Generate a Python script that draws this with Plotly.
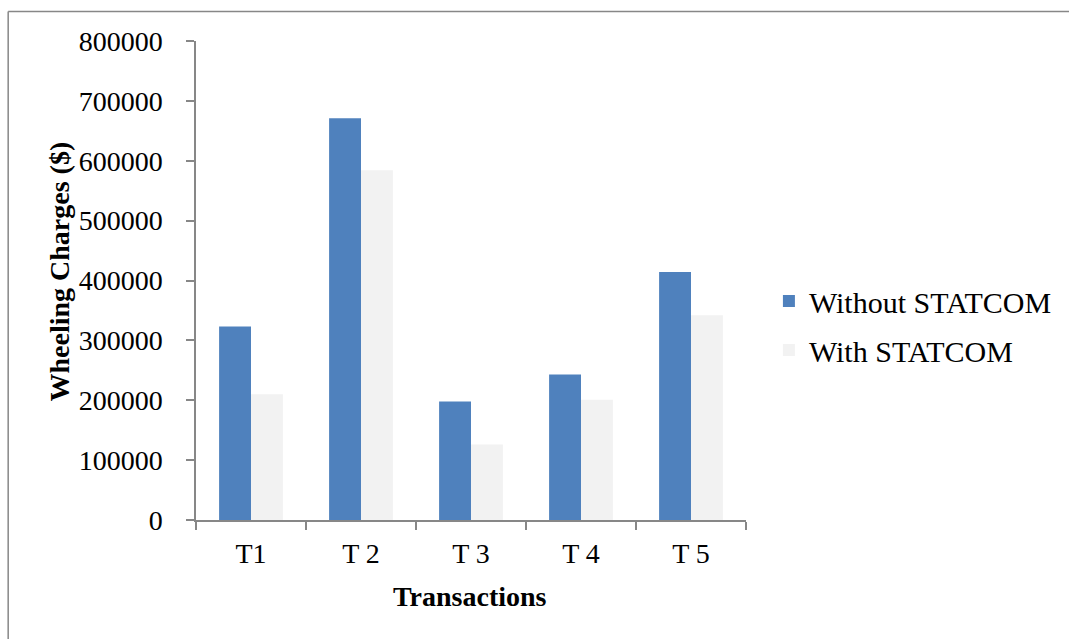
import plotly.graph_objects as go

# Wheeling charges per transaction, with and without STATCOM
transactions = ["T1", "T 2", "T 3", "T 4", "T 5"]
without_statcom = [323000, 671000, 198000, 243000, 414000]
with_statcom = [210000, 584000, 126000, 201000, 342000]
y_ticks = [0, 100000, 200000, 300000, 400000, 500000, 600000, 700000, 800000]

FONT = "Liberation Serif, Times New Roman, serif"
AXIS_GREY = "#878787"

W, H = 1069, 639
L, R, T, B = 196, 321, 41, 119
pw, ph = W - L - R, H - T - B


def px_x(px):
    return (px - L) / pw


def px_y(py):
    return (H - B - py) / ph


fig = go.Figure()
fig.add_trace(go.Bar(
    x=transactions, y=without_statcom, name="Without STATCOM", legendgroup="a",
    marker=dict(color="#4F81BD", line=dict(width=0)),
))
fig.add_trace(go.Bar(
    x=transactions, y=with_statcom, name="With STATCOM", legendgroup="b",
    marker=dict(color="#F2F2F2", line=dict(width=0)),
))

fig.update_layout(
    width=W, height=H,
    margin=dict(l=L, r=R, t=T, b=B, pad=0),
    paper_bgcolor="white", plot_bgcolor="white",
    barmode="group", bargap=0.42, bargroupgap=0,
    font=dict(family=FONT, size=28, color="black"),
    showlegend=True,
    legend=dict(
        x=px_x(771), y=px_y(275), xanchor="left", yanchor="top",
        font=dict(family=FONT, size=30, color="black"),
        bgcolor="rgba(0,0,0,0)", borderwidth=0,
        itemsizing="constant", tracegroupgap=7, traceorder="grouped",
    ),
)

fig.update_xaxes(
    type="category", showgrid=False, zeroline=False,
    showline=True, linecolor=AXIS_GREY, linewidth=1.5,
    ticks="outside", tickson="boundaries", ticklen=8, tickwidth=1.5, tickcolor=AXIS_GREY,
    ticklabelstandoff=8,
    tickfont=dict(family=FONT, size=28, color="black"),
)
fig.update_yaxes(
    range=[0, 800000], tickvals=y_ticks, ticktext=[str(v) for v in y_ticks],
    showgrid=False, zeroline=False,
    showline=True, linecolor=AXIS_GREY, linewidth=1.5,
    ticks="outside", ticklen=8, tickwidth=1.5, tickcolor=AXIS_GREY,
    ticklabelstandoff=18,
    tickfont=dict(family=FONT, size=28, color="black"),
)

# Axis titles
fig.add_annotation(
    text="<b>Transactions</b>", xref="paper", yref="paper",
    x=px_x(471), y=px_y(596), xanchor="center", yanchor="middle",
    showarrow=False, font=dict(family=FONT, size=28, color="black"),
)
fig.add_annotation(
    text="<b>Wheeling Charges ($)</b>", xref="paper", yref="paper",
    x=px_x(59), y=px_y(271), xanchor="center", yanchor="middle", textangle=-90,
    showarrow=False, font=dict(family=FONT, size=28, color="black"),
)

# Chart frame (top and left edges)
fig.add_shape(type="line", xref="paper", yref="paper",
              x0=px_x(7.5), x1=px_x(1080), y0=px_y(11.5), y1=px_y(11.5),
              line=dict(color=AXIS_GREY, width=1.5))
fig.add_shape(type="line", xref="paper", yref="paper",
              x0=px_x(7.5), x1=px_x(7.5), y0=px_y(11.5), y1=px_y(650),
              line=dict(color=AXIS_GREY, width=1.5))

fig.write_html("out.html")
